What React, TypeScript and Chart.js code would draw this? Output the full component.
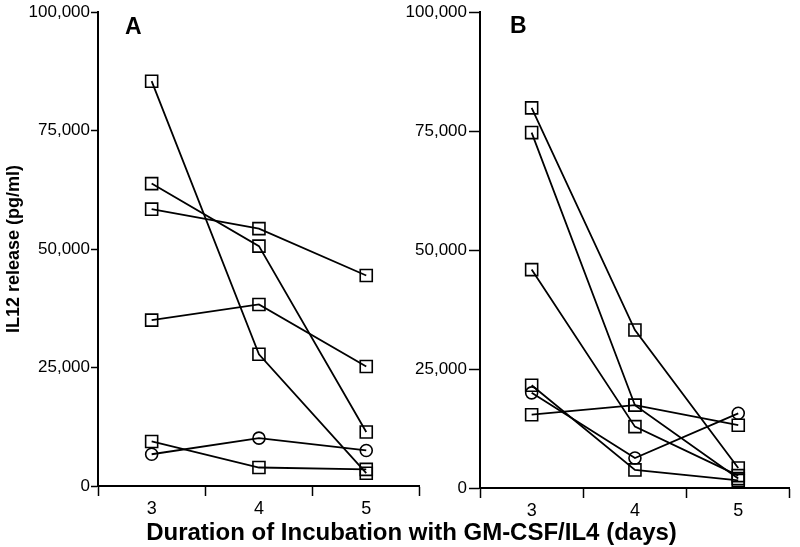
import React, { useEffect, useRef } from "react";
import { Chart, registerables } from "chart.js";

Chart.register(...registerables);

// ---- data ----
const days = [3, 4, 5];
const yTickValues = [0, 25000, 50000, 75000, 100000];

// Panel A (IL12 release, pg/ml)
const a1 = [85400, 27800, 2700];
const a2 = [63800, 50600, 11400];
const a3 = [58400, 54300, 44400];
const a4 = [35000, 38300, 25200];
const a5 = [9400, 3900, 3500];
const a6 = [6700, 10100, 7500]; // circles
const seriesA = [a1, a2, a3, a4, a5, a6];
const markersA = ["rect", "rect", "rect", "rect", "rect", "circle"];

// Panel B
const b1 = [79900, 33200, 4200];
const b2 = [74700, 17400, 2000];
const b3 = [45900, 12900, 2600];
const b4 = [21600, 3800, 1600];
const b5 = [20000, 6300, 15700]; // circles
const b6 = [15400, 17400, 13200];
const seriesB = [b1, b2, b3, b4, b5, b6];
const markersB = ["rect", "rect", "rect", "rect", "circle", "rect"];

const yTitle = "IL12 release (pg/ml)";
const xTitle = "Duration of Incubation with GM-CSF/IL4 (days)";

const FONT = "'Liberation Sans', Arial, Helvetica, sans-serif";

type PanelOpts = {
  series: number[][];
  markers: string[];
  yWidth: number;
  padding: { top: number; right: number; bottom: number; left: number };
  showYTitle: boolean;
  yTickLength: number;
  yTickPadding: number;
};

function buildConfig(o: PanelOpts): any {
  const datasets = o.series.map((s, k) => ({
    data: days.map((d, i) => ({ x: d, y: s[i] })),
    borderColor: "#000",
    borderWidth: 1.8,
    pointStyle: o.markers[k],
    pointRadius: o.markers[k] === "rect" ? 8.5 : 6,
    pointBorderWidth: 1.6,
    pointBorderColor: "#000",
    pointBackgroundColor: "rgba(0,0,0,0)",
    fill: false,
    tension: 0,
  }));
  return {
    type: "line",
    data: { datasets },
    options: {
      animation: false,
      responsive: false,
      maintainAspectRatio: false,
      layout: { padding: o.padding },
      plugins: { legend: { display: false }, tooltip: { enabled: false } },
      scales: {
        x: {
          type: "linear",
          min: 2.5,
          max: 5.5,
          afterBuildTicks: (s: any) => {
            s.ticks = [2.5, 3, 3.5, 4, 4.5, 5, 5.5].map((v) => ({ value: v }));
          },
          afterFit: (s: any) => {
            s.height = 30;
          },
          border: { display: true, color: "#000", width: 2 },
          grid: {
            drawOnChartArea: false,
            drawTicks: true,
            tickLength: 10,
            tickWidth: 1.5,
            tickColor: (c: any) =>
              c.tick && Number.isInteger(c.tick.value) ? "rgba(0,0,0,0)" : "#000",
          },
          ticks: {
            autoSkip: false,
            maxRotation: 0,
            padding: 2,
            color: "#000",
            font: { family: FONT, size: 18 },
            callback: (v: any) => (Number.isInteger(v) ? String(v) : ""),
          },
        },
        y: {
          type: "linear",
          min: 0,
          max: 100000,
          afterBuildTicks: (s: any) => {
            s.ticks = yTickValues.map((v) => ({ value: v }));
          },
          afterFit: (s: any) => {
            s.width = o.yWidth;
          },
          border: { display: true, color: "#000", width: 2 },
          grid: {
            drawOnChartArea: false,
            drawTicks: true,
            tickLength: o.yTickLength,
            tickWidth: 1.5,
            tickColor: "#000",
          },
          ticks: {
            padding: o.yTickPadding,
            color: "#000",
            font: { family: FONT, size: 17 },
            callback: (v: any) => Number(v).toLocaleString("en-US"),
          },
          title: {
            display: o.showYTitle,
            text: yTitle,
            color: "#000",
            font: { family: FONT, size: 18, weight: "bold" },
            padding: { top: 3, bottom: 0 },
          },
        },
      },
    },
  };
}

function Panel(props: { opts: PanelOpts; left: number; width: number }) {
  const ref = useRef<HTMLCanvasElement | null>(null);
  useEffect(() => {
    if (!ref.current) return;
    const chart = new Chart(ref.current, buildConfig(props.opts));
    return () => chart.destroy();
  }, []);
  return (
    <canvas
      ref={ref}
      width={props.width}
      height={547}
      style={{ position: "absolute", left: props.left, top: 0, width: props.width, height: 547 }}
    />
  );
}

export default function App() {
  const optsA: PanelOpts = {
    series: seriesA,
    markers: markersA,
    yWidth: 98,
    padding: { top: 12, right: 2, bottom: 31, left: 0 },
    showYTitle: true,
    yTickLength: 7,
    yTickPadding: 1,
  };
  const optsB: PanelOpts = {
    series: seriesB,
    markers: markersB,
    yWidth: 80,
    padding: { top: 8, right: 4, bottom: 29, left: 0 },
    showYTitle: false,
    yTickLength: 11,
    yTickPadding: 2,
  };
  const letter: React.CSSProperties = {
    position: "absolute",
    fontFamily: FONT,
    fontWeight: "bold",
    fontSize: 23,
    lineHeight: 1,
    color: "#000",
  };
  return (
    <div
      style={{
        position: "fixed",
        left: 0,
        top: 0,
        width: 800,
        height: 547,
        background: "#fff",
        overflow: "hidden",
      }}
    >
      <Panel opts={optsA} left={0} width={430} />
      <Panel opts={optsB} left={400} width={400} />
      <div style={{ ...letter, left: 125, top: 15 }}>A</div>
      <div style={{ ...letter, left: 510, top: 14 }}>B</div>
      <div
        style={{
          position: "absolute",
          left: 411.5,
          top: 520,
          transform: "translateX(-50%)",
          whiteSpace: "nowrap",
          fontFamily: FONT,
          fontWeight: "bold",
          fontSize: 24,
          lineHeight: 1,
          color: "#000",
        }}
      >
        {xTitle}
      </div>
    </div>
  );
}
